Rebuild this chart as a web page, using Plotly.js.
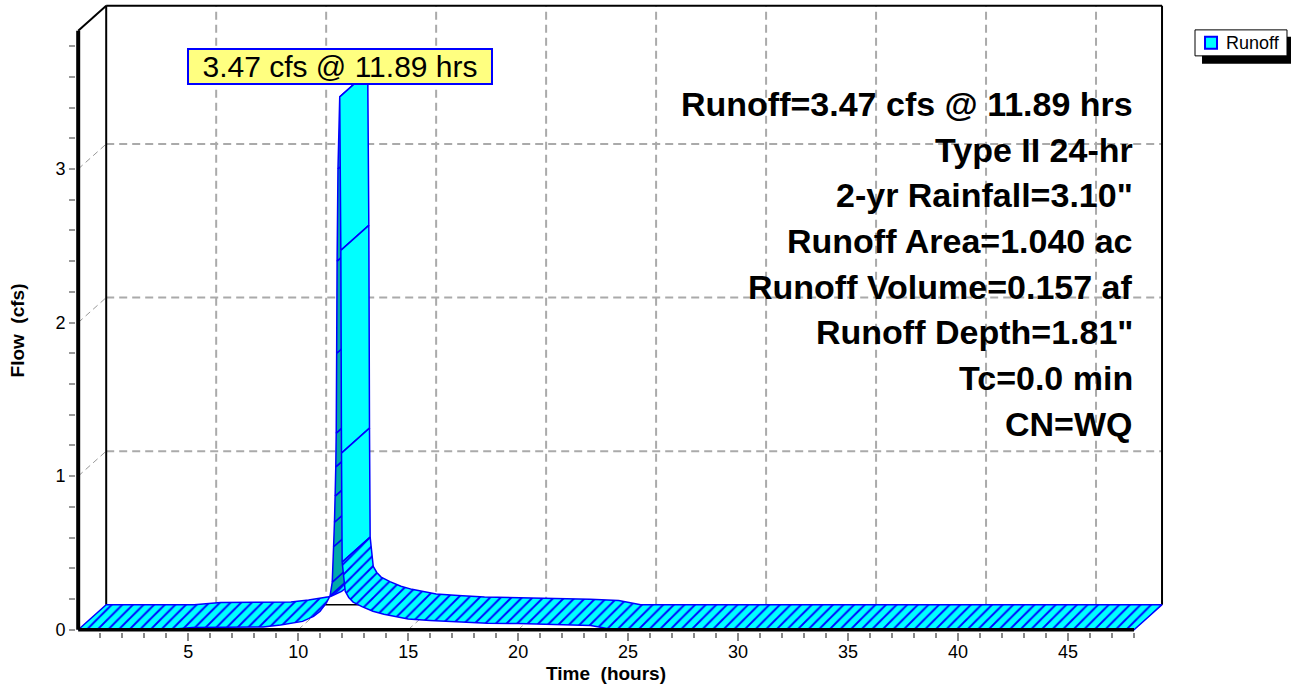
<!DOCTYPE html>
<html><head><meta charset="utf-8">
<script src="https://cdn.plot.ly/plotly-3.0.1.min.js"></script>
<style>html,body{margin:0;padding:0;background:#fff;} #chart{width:1294px;height:685px;}</style>
</head><body><div id="chart"></div>
<script>
// ---------------- data ----------------
const timeHrs = [0, 4.0, 5.2, 8.4, 9.2, 10.2, 10.7, 11.0, 11.3, 11.45, 11.55, 11.61, 11.65, 11.68, 11.71, 11.73, 11.75, 11.77, 11.81, 11.89, 11.94, 11.97, 12.0, 12.14, 12.3, 12.5, 12.9, 13.4, 13.9, 15.0, 16.0, 17.2, 18.6, 20.0, 22.0, 23.3, 23.8, 24.3, 48.0];
const flowCfs = [0, 0, 0.015, 0.018, 0.03, 0.054, 0.087, 0.12, 0.18, 0.22, 0.31, 0.54, 0.70, 0.87, 1.06, 1.28, 1.8, 2.4, 3.0, 3.47, 2.47, 1.15, 0.44, 0.25, 0.21, 0.18, 0.15, 0.12, 0.10, 0.07, 0.06, 0.05, 0.042, 0.04, 0.035, 0.028, 0.015, 0, 0];
const seriesName = 'Runoff';
const peakTime = 11.89;
const peakLabel = '3.47 cfs @ 11.89 hrs';
const infoLines = ['Runoff=3.47 cfs @ 11.89 hrs', 'Type II 24-hr', '2-yr Rainfall=3.10"', 'Runoff Area=1.040 ac', 'Runoff Volume=0.157 af', 'Runoff Depth=1.81"', 'Tc=0.0 min', 'CN=WQ'];
const xMajorTicks = [5, 10, 15, 20, 25, 30, 35, 40, 45];
const yMajorTicks = [0, 1, 2, 3];
const xTitle = 'Time\u00a0 (hours)';
const yTitle = 'Flow\u00a0 (cfs)';

// ---------------- geometry ----------------
const PXH = 22, PXQ = 153.6;          // px per hour / px per cfs
const DX = 28 / PXH, DY = 25 / PXQ;   // pseudo-3D depth offset
const X_END = 48, Y_TOP = 3.90;
const X0 = -0.1, XR = X_END + DX + 0.09;
const Y0 = -0.015, YR = Y_TOP + DY + 0.012;
const W = 1294, H = 685;
const plotL = 78 + X0 * PXH;
const plotW = (XR - X0) * PXH;
const plotB = 630 - Y0 * PXQ;
const plotH = (YR - Y0) * PXQ;
const mL = plotL, mR = W - plotL - plotW, mB = H - plotB, mT = H - mB - plotH;
const px2paperX = p => (p - plotL) / plotW;
const px2paperY = p => (plotB - p) / plotH;

const CYAN = '#00FFFF', BLUE = '#0000FF', TEAL = '#00AAAA';
const FONT = 'Liberation Sans, Arial, sans-serif';

function classify(i) {
  const sx = (timeHrs[i + 1] - timeHrs[i]) * PXH;
  const sy = (flowCfs[i + 1] - flowCfs[i]) * PXQ;
  const ratio = Math.abs(sy) / Math.max(sx, 1e-6);
  if (sy > 0 && ratio > 2) return 'under';
  if (sy < 0 && ratio > 15) return 'solid';
  return 'hatch';
}
function ribbonTrace(a, b, c) {
  const xs = [], ys = [];
  for (let k = a; k <= b; k++) { xs.push(timeHrs[k]); ys.push(flowCfs[k]); }
  for (let k = b; k >= a; k--) { xs.push(timeHrs[k] + DX); ys.push(flowCfs[k] + DY); }
  xs.push(timeHrs[a]); ys.push(flowCfs[a]);
  const t = {
    x: xs, y: ys, type: 'scatter', mode: 'lines', fill: 'toself', name: seriesName,
    fillcolor: c === 'under' ? TEAL : CYAN,
    line: { color: BLUE, width: 1.5 }, hoverinfo: 'skip', showlegend: false
  };
  if (c === 'hatch') t.fillpattern = { shape: '/', fgcolor: BLUE, bgcolor: CYAN, size: 7.5, solidity: 0.25 };
  return t;
}
const traces = [];
{
  const n = timeHrs.length; let i = 0;
  while (i < n - 1) {
    const c = classify(i);
    if (c === 'hatch') {
      let j = i; while (j < n - 1 && classify(j) === 'hatch') j++;
      traces.push(ribbonTrace(i, j, c)); i = j;
    } else { traces.push(ribbonTrace(i, i + 1, c)); i++; }
  }
}

// ---------------- shapes ----------------
const shapes = [];
const GRID = { color: '#AAAAAA', width: 2, dash: '8px,5px' };
const GRID_D = { color: '#999999', width: 1, dash: '6px,4px' };
yMajorTicks.filter(v => v > 0).forEach(v => {
  shapes.push({ type: 'line', xref: 'x', yref: 'y', x0: DX, x1: X_END + DX, y0: v + DY, y1: v + DY, line: GRID, layer: 'below' });
  shapes.push({ type: 'line', xref: 'x', yref: 'y', x0: 0, x1: DX, y0: v, y1: v + DY, line: GRID_D, layer: 'below' });
});
xMajorTicks.forEach(v => {
  shapes.push({ type: 'line', xref: 'x', yref: 'y', x0: v + DX, x1: v + DX, y0: DY, y1: Y_TOP + DY, line: GRID, layer: 'below' });
  shapes.push({ type: 'line', xref: 'x', yref: 'y', x0: v, x1: v + DX, y0: 0, y1: DY, line: GRID_D, layer: 'below' });
});
const BK = { color: '#000000', width: 2 };
shapes.push({ type: 'line', xref: 'x', yref: 'y', x0: DX, x1: DX, y0: DY, y1: Y_TOP + DY, line: BK, layer: 'below' });
shapes.push({ type: 'line', xref: 'x', yref: 'y', x0: DX, x1: X_END + DX, y0: Y_TOP + DY, y1: Y_TOP + DY, line: BK, layer: 'below' });
shapes.push({ type: 'line', xref: 'x', yref: 'y', x0: X_END + DX, x1: X_END + DX, y0: DY, y1: Y_TOP + DY, line: BK, layer: 'below' });
shapes.push({ type: 'line', xref: 'x', yref: 'y', x0: DX, x1: X_END + DX, y0: DY, y1: DY, line: { color: '#000', width: 1.5 }, layer: 'below' });
shapes.push({ type: 'line', xref: 'x', yref: 'y', x0: 0, x1: DX, y0: Y_TOP, y1: Y_TOP + DY, line: BK, layer: 'above' });
shapes.push({ type: 'line', xref: 'x', yref: 'y', x0: 0, x1: 0, y0: 0, y1: Y_TOP, line: { color: '#000', width: 4 }, layer: 'above' });
shapes.push({ type: 'line', xref: 'x', yref: 'y', x0: 0, x1: X_END, y0: 0, y1: 0, line: { color: '#000', width: 3.5 }, layer: 'above' });

// legend box (drawn: shadow, frame, swatch, text)
const legL = 1195, legT = 30, legWpx = 92, legHpx = 26;
const PX = (x0, y0, x1, y1) => ({ xref: 'paper', yref: 'paper', x0: px2paperX(x0), x1: px2paperX(x1), y0: px2paperY(y1), y1: px2paperY(y0) });
shapes.push(Object.assign({ type: 'rect', fillcolor: '#000', line: { width: 0 }, layer: 'above' }, PX(legL + 7, legT + 7, legL + legWpx + 4, legT + legHpx + 8)));
shapes.push(Object.assign({ type: 'rect', fillcolor: '#fff', line: { color: '#000', width: 1 }, layer: 'above' }, PX(legL, legT, legL + legWpx, legT + legHpx)));
shapes.push(Object.assign({ type: 'rect', fillcolor: CYAN, line: { color: BLUE, width: 2 }, layer: 'above' }, PX(legL + 10, legT + 7, legL + 22, legT + 19)));

// ---------------- annotations ----------------
const annotations = [];
annotations.push({
  text: seriesName, xref: 'paper', yref: 'paper', x: px2paperX(legL + 29), y: px2paperY(legT + 13),
  xanchor: 'left', yanchor: 'middle', showarrow: false, font: { family: FONT, size: 18, color: '#000' }
});
annotations.push({
  text: peakLabel, xref: 'x', yref: 'paper', x: peakTime, y: px2paperY(66.5), xanchor: 'center', yanchor: 'middle',
  showarrow: false, font: { family: FONT, size: 30, color: '#000' },
  bgcolor: '#FFFF80', bordercolor: BLUE, borderwidth: 2, borderpad: 0, width: 302, height: 33
});
infoLines.forEach((s, k) => annotations.push({
  text: '<b>' + s + '</b>', xref: 'paper', yref: 'paper', x: px2paperX(1135), y: px2paperY(104 + 45.7 * k),
  xanchor: 'right', yanchor: 'middle', showarrow: false, font: { family: FONT, size: 34, color: '#000' }
}));
annotations.push({ text: '<b>' + xTitle + '</b>', xref: 'x', yref: 'paper', x: X_END / 2, y: px2paperY(674),
  xanchor: 'center', yanchor: 'middle', showarrow: false, font: { family: FONT, size: 19, color: '#000' } });
annotations.push({ text: '<b>' + yTitle + '</b>', xref: 'paper', yref: 'y', x: px2paperX(17), y: Y_TOP / 2, textangle: -90,
  xanchor: 'center', yanchor: 'middle', showarrow: false, font: { family: FONT, size: 19, color: '#000' } });

const xMinor = [], yMinor = [];
for (let h = 1; h <= X_END; h++) if (!xMajorTicks.includes(h)) xMinor.push(h);
for (let k = 1; k < Y_TOP * 5; k++) { const v = Math.round(k * 2) / 10; if (!yMajorTicks.includes(v)) yMinor.push(v); }

const layout = {
  width: W, height: H, paper_bgcolor: '#fff', plot_bgcolor: 'rgba(0,0,0,0)',
  margin: { l: mL, r: mR, t: mT, b: mB, pad: 0, autoexpand: false },
  font: { family: FONT, size: 18, color: '#000' },
  hovermode: false, showlegend: false,
  xaxis: {
    range: [X0, XR], showgrid: false, zeroline: false, showline: false,
    tickmode: 'array', tickvals: xMajorTicks, ticks: 'outside', ticklen: 8, tickwidth: 2, tickcolor: '#888',
    ticklabelstandoff: -5,
    tickfont: { family: FONT, size: 18, color: '#000' },
    minor: { tickmode: 'array', tickvals: xMinor, ticks: 'outside', ticklen: 5, tickwidth: 2, tickcolor: '#888', showgrid: false }
  },
  yaxis: {
    range: [Y0, YR], showgrid: false, zeroline: false, showline: false,
    tickmode: 'array', tickvals: yMajorTicks, ticks: 'outside', ticklen: 6, tickwidth: 2, tickcolor: '#999',
    tickfont: { family: FONT, size: 18, color: '#000' },
    minor: { tickmode: 'array', tickvals: yMinor, ticks: 'outside', ticklen: 6, tickwidth: 2, tickcolor: '#999', showgrid: false }
  },
  shapes: shapes, annotations: annotations
};
Plotly.newPlot('chart', traces, layout, { staticPlot: true, displayModeBar: false });
</script></body></html>
